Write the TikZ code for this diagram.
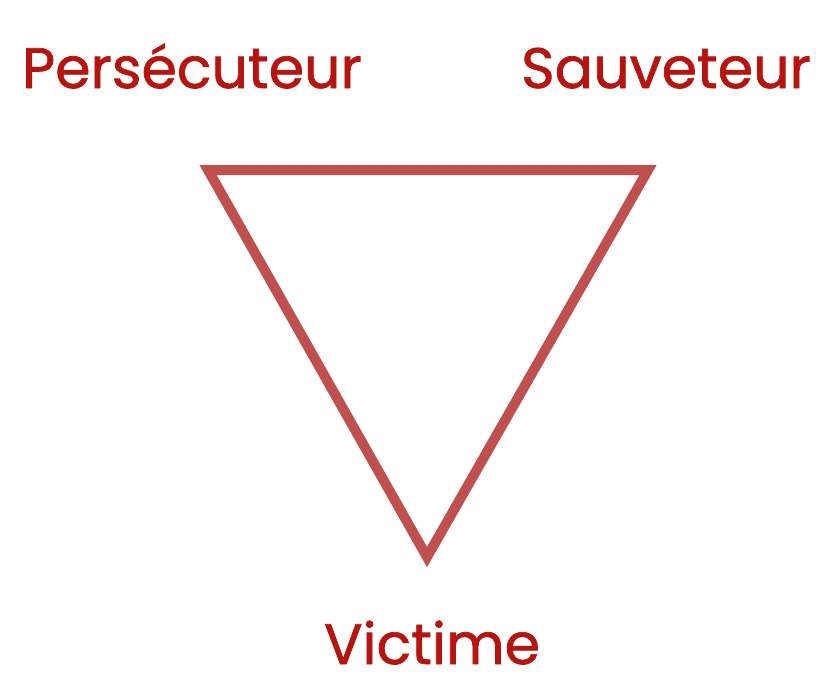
\documentclass[tikz,border=0pt]{standalone}
\usepackage{fontspec}
\setmainfont[FakeBold=1.2]{Poppins}
\definecolor{txtred}{HTML}{B5140F}
\definecolor{trired}{HTML}{C0504D}
\begin{document}
\begin{tikzpicture}[x=1pt,y=-1pt,
  lbl/.style={text=txtred, font=\fontsize{57}{66}\selectfont, anchor=base, inner sep=0pt, text depth=0pt},
  tri/.style={draw=trired, line width=10pt, miter limit=10, line join=miter}]
\useasboundingbox (0,0) rectangle (816,675);
\coordinate (tl) at (208,170);
\coordinate (tr) at (648,170);
\coordinate (bt) at (427,557);
\draw[tri] (tl) -- (tr) -- (bt) -- cycle;
\node[lbl] (pers) at (192,88) {Persécuteur};
\node[lbl] (sauv) at (666,88) {Sauveteur};
\node[lbl] (vict) at (432,664) {Victime};
\end{tikzpicture}
\end{document}
